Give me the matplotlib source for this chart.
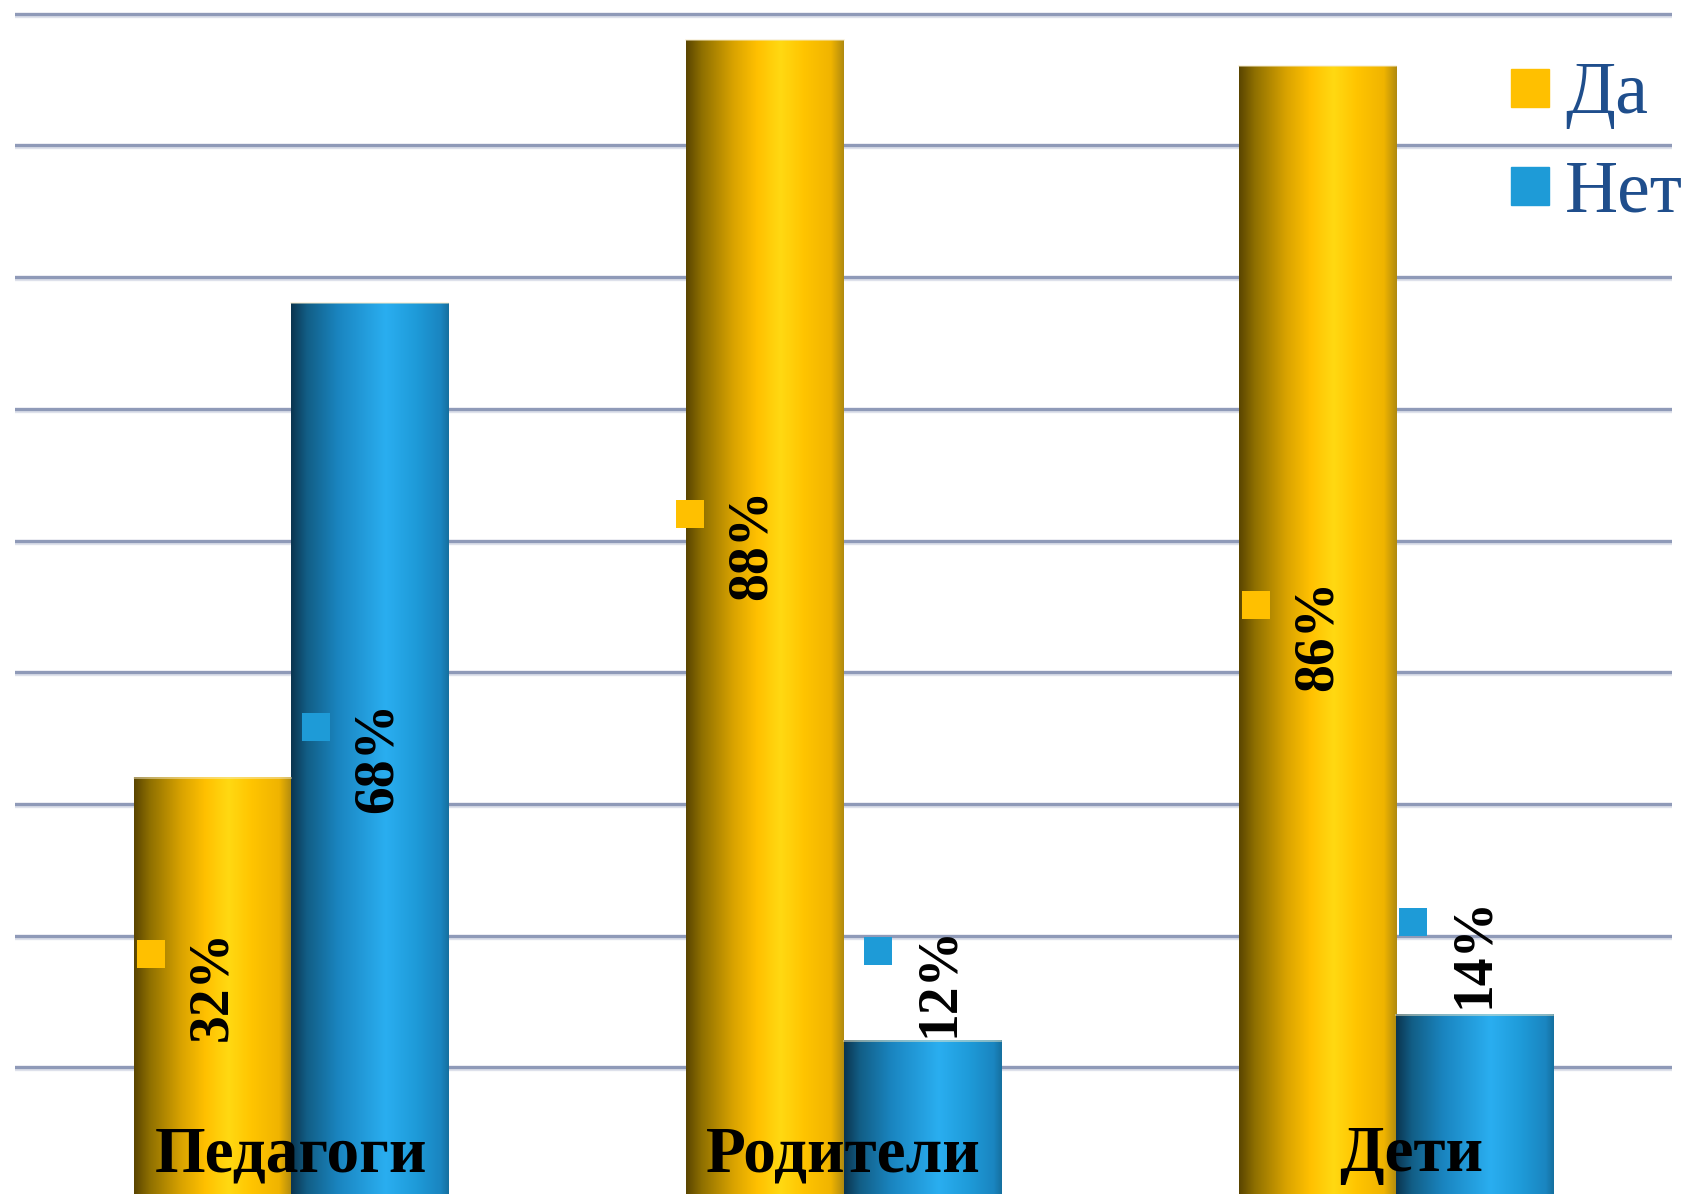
import numpy as np
import matplotlib
matplotlib.use("Agg")
import matplotlib.pyplot as plt
from matplotlib.colors import LinearSegmentedColormap
from matplotlib.patches import Rectangle
import matplotlib.patheffects as pe
import matplotlib.transforms as mtransforms

# data
categories = ["Педагоги", "Родители", "Дети"]
series = ["Да", "Нет"]
da = [0.32, 0.88, 0.86]
net = [0.68, 0.12, 0.14]

# label placement (data units)
da_label_y = [0.1625, 0.497, 0.428]
net_label_y = [0.335, 0.165, 0.1875]
da_label_dx = [0.0, -0.024, 0.0]
net_label_dx = [0.014, 0.031, 0.0]
cat_label_dx = [0.0, 0.0, 0.027]

YELLOW = "#FFC000"
BLUE = "#1E9BD7"
LEGEND_TEXT = "#1F4E8C"
SERIF = ["Liberation Serif", "DejaVu Serif"]

yellow_cmap = LinearSegmentedColormap.from_list("yel", [
    (0.0, "#5A4500"), (0.1, "#8F7000"), (0.3, "#D9A300"), (0.45, "#FFC000"),
    (0.6, "#FFD912"), (0.75, "#FFC400"), (0.92, "#F0B400"), (1.0, "#B08A10")])
blue_cmap = LinearSegmentedColormap.from_list("blu", [
    (0.0, "#0B3550"), (0.1, "#125E86"), (0.3, "#1A85C0"), (0.6, "#2AAEF0"),
    (0.8, "#1E9AD8"), (0.95, "#1A85C0"), (1.0, "#1570A0")])

W, H, DPI = 1691, 1194, 100
fig = plt.figure(figsize=(W / DPI, H / DPI), dpi=DPI)
ax = fig.add_axes([15 / W, 0, 1657 / W, 1])
for s in ax.spines.values():
    s.set_visible(False)
ax.set_xticks([])
ax.set_yticks([])

# gridlines with soft shadow
for g in np.arange(0.1, 0.95, 0.1):
    ax.axhline(g, color="#8F9AB8", lw=2.4, zorder=1,
               path_effects=[pe.SimpleLineShadow(offset=(0, -1.5), shadow_color="#C8CEDE", alpha=0.6),
                             pe.Normal()])

x = np.arange(len(categories))
w = 0.2845
grad = np.linspace(0, 1, 256).reshape(1, -1)

bars_da = ax.bar(x - w / 2, da, w, color="none", zorder=2)
bars_net = ax.bar(x + w / 2, net, w, color="none", zorder=2)
for bars, cmap in ((bars_da, yellow_cmap), (bars_net, blue_cmap)):
    for b in bars:
        x0, h = b.get_x(), b.get_height()
        ax.imshow(grad, cmap=cmap, aspect="auto", zorder=3,
                  extent=[x0, x0 + b.get_width(), 0, h], interpolation="bilinear")
        ax.plot([x0, x0 + b.get_width()], [h, h], color="#F4E9C8", lw=1.2, alpha=0.6, zorder=3.5)
ax.set_xlim(-0.5, 2.5)
ax.set_ylim(0.0038, 0.9104)

# data labels: rotated bold text with a small legend-key square
sq_off = mtransforms.offset_copy(ax.transData, fig=fig, x=-61.5, y=30.5, units="dots")
for vals, ly, dx, off, col in ((da, da_label_y, da_label_dx, -w / 2, YELLOW),
                               (net, net_label_y, net_label_dx, w / 2, BLUE)):
    for i, v in enumerate(vals):
        lx = x[i] + off + dx[i]
        ax.text(lx, ly[i], f"{int(round(v * 100))}%", rotation=90, ha="center", va="center",
                fontsize=40, fontweight="bold", family=SERIF, color="black", zorder=5)
        ax.plot(lx, ly[i], marker="s", markersize=19.5, color=col, markeredgewidth=0,
                transform=sq_off, zorder=5)

# category labels inside the plot at the bottom
for i, c in enumerate(categories):
    ax.text(x[i] + cat_label_dx[i], 0.021, c, ha="center", va="baseline", fontsize=47,
            fontweight="bold", family=SERIF, color="black", zorder=6)

# legend
for j, (name, col) in enumerate(zip(series, [YELLOW, BLUE])):
    top = 69 + j * 98
    fig.patches.append(Rectangle((1511 / W, 1 - (top + 38) / H), 38 / W, 38 / H,
                                 transform=fig.transFigure, color=col, zorder=7))
    fig.text(1565 / W, 1 - (113 + j * 99) / H, name, fontsize=53, family=SERIF,
             color=LEGEND_TEXT, va="baseline", ha="left")

fig.savefig("out.png", dpi=DPI, facecolor="white")
